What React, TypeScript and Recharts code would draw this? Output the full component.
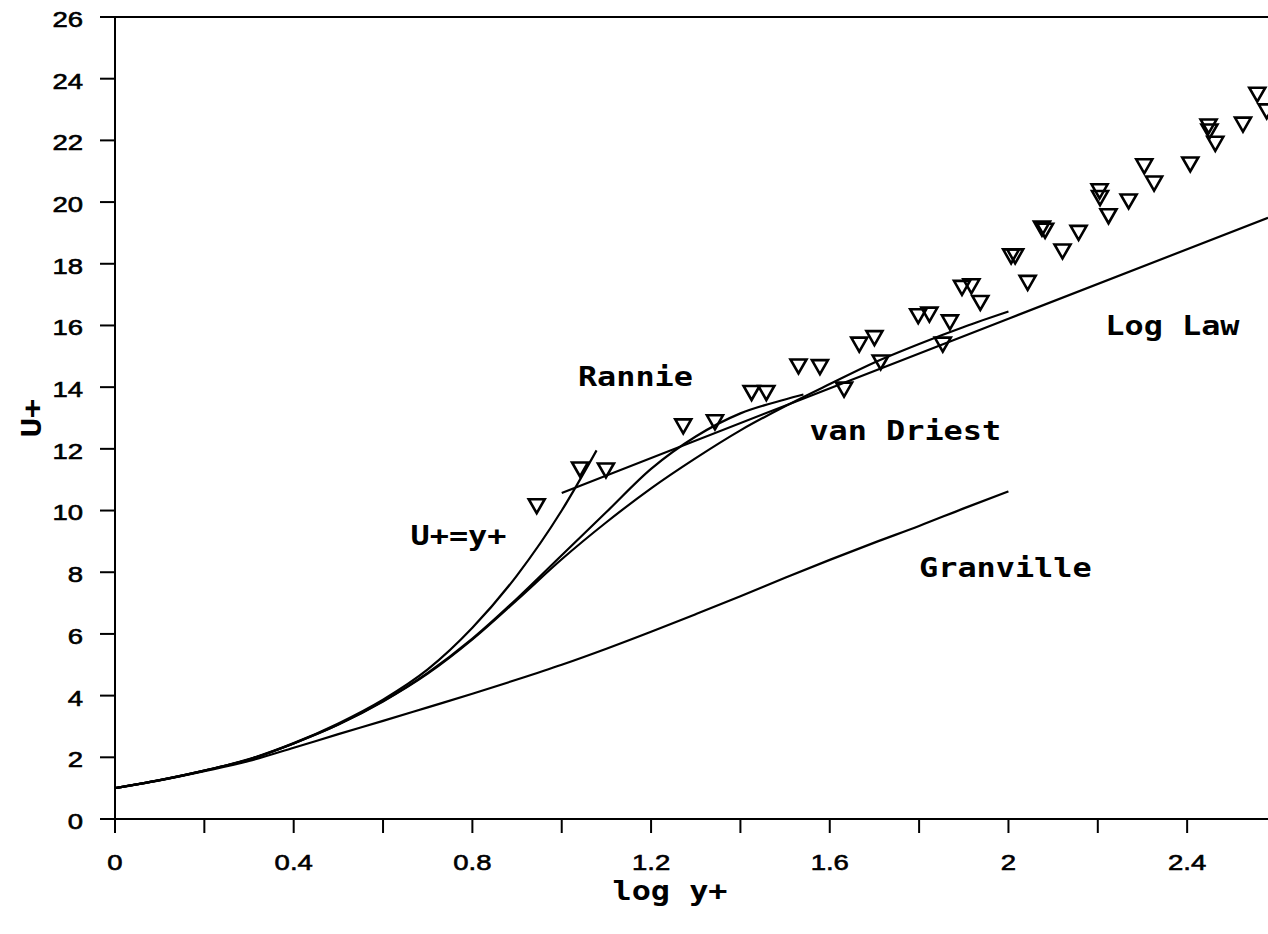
import React from 'react';
import {
  ComposedChart,
  Line,
  Scatter,
  XAxis,
  YAxis,
  ReferenceLine,
  ReferenceDot,
  Label,
} from 'recharts';

// Velocity profiles in wall units: U+ against log10(y+)

const viscousSublayer = [
  { x: 0, u: 1.0 }, { x: 0.1, u: 1.26 }, { x: 0.2, u: 1.57 }, { x: 0.3, u: 1.94 },
  { x: 0.4, u: 2.46 }, { x: 0.5, u: 3.1 }, { x: 0.6, u: 3.87 }, { x: 0.7, u: 4.85 },
  { x: 0.8, u: 6.2 }, { x: 0.9, u: 7.9 }, { x: 1.0, u: 10.0 }, { x: 1.078, u: 11.95 },
];

const rannie = [
  { x: 0, u: 1.0 }, { x: 0.1, u: 1.26 }, { x: 0.2, u: 1.57 }, { x: 0.3, u: 1.93 },
  { x: 0.4, u: 2.45 }, { x: 0.5, u: 3.06 }, { x: 0.6, u: 3.82 }, { x: 0.7, u: 4.74 },
  { x: 0.8, u: 5.85 }, { x: 0.9, u: 7.15 }, { x: 1.0, u: 8.55 }, { x: 1.1, u: 9.95 },
  { x: 1.2, u: 11.35 }, { x: 1.3, u: 12.4 }, { x: 1.4, u: 13.15 }, { x: 1.5, u: 13.6 },
  { x: 1.541, u: 13.76 },
];

const vanDriest = [
  { x: 0, u: 1.0 }, { x: 0.1, u: 1.26 }, { x: 0.2, u: 1.57 }, { x: 0.3, u: 1.93 },
  { x: 0.4, u: 2.45 }, { x: 0.5, u: 3.06 }, { x: 0.6, u: 3.81 }, { x: 0.7, u: 4.71 },
  { x: 0.8, u: 5.82 }, { x: 0.9, u: 7.1 }, { x: 1.0, u: 8.42 }, { x: 1.1, u: 9.62 },
  { x: 1.2, u: 10.72 }, { x: 1.3, u: 11.7 }, { x: 1.4, u: 12.6 }, { x: 1.5, u: 13.38 },
  { x: 1.6, u: 14.1 }, { x: 1.7, u: 14.8 }, { x: 1.8, u: 15.4 }, { x: 1.9, u: 15.95 },
  { x: 2.0, u: 16.45 },
];

const granville = [
  { x: 0, u: 1.0 }, { x: 0.1, u: 1.25 }, { x: 0.2, u: 1.55 }, { x: 0.3, u: 1.88 },
  { x: 0.4, u: 2.31 }, { x: 0.5, u: 2.75 }, { x: 0.6, u: 3.18 }, { x: 0.7, u: 3.62 },
  { x: 0.8, u: 4.06 }, { x: 0.9, u: 4.52 }, { x: 1.0, u: 5.0 }, { x: 1.1, u: 5.52 },
  { x: 1.2, u: 6.07 }, { x: 1.3, u: 6.64 }, { x: 1.4, u: 7.22 }, { x: 1.5, u: 7.82 },
  { x: 1.6, u: 8.4 }, { x: 1.7, u: 8.96 }, { x: 1.8, u: 9.5 }, { x: 1.9, u: 10.07 },
  { x: 2.0, u: 10.62 },
];

const logLaw = [
  { x: 1.0, u: 10.57 }, { x: 1.5, u: 13.4 }, { x: 2.0, u: 16.22 }, { x: 2.581, u: 19.49 },
];

const measured = [
  { x: 0.944, u: 10.14 }, { x: 1.041, u: 11.33 }, { x: 1.099, u: 11.3 }, { x: 1.272, u: 12.73 },
  { x: 1.343, u: 12.86 }, { x: 1.425, u: 13.81 }, { x: 1.458, u: 13.81 }, { x: 1.53, u: 14.67 },
  { x: 1.578, u: 14.65 }, { x: 1.632, u: 13.92 }, { x: 1.666, u: 15.38 }, { x: 1.7, u: 15.59 },
  { x: 1.714, u: 14.8 }, { x: 1.798, u: 16.3 }, { x: 1.823, u: 16.35 }, { x: 1.853, u: 15.38 },
  { x: 1.869, u: 16.1 }, { x: 1.896, u: 17.22 }, { x: 1.917, u: 17.27 }, { x: 1.937, u: 16.73 },
  { x: 2.006, u: 18.24 }, { x: 2.015, u: 18.24 }, { x: 2.043, u: 17.38 }, { x: 2.075, u: 19.14 },
  { x: 2.082, u: 19.07 }, { x: 2.121, u: 18.4 }, { x: 2.157, u: 19.0 }, { x: 2.204, u: 20.35 },
  { x: 2.205, u: 20.13 }, { x: 2.224, u: 19.54 }, { x: 2.269, u: 20.02 }, { x: 2.304, u: 21.16 },
  { x: 2.326, u: 20.6 }, { x: 2.407, u: 21.22 }, { x: 2.448, u: 22.45 }, { x: 2.45, u: 22.29 },
  { x: 2.463, u: 21.89 }, { x: 2.525, u: 22.51 }, { x: 2.557, u: 23.48 }, { x: 2.578, u: 22.94 },
];

const xTicks = [0, 0.2, 0.4, 0.6, 0.8, 1.0, 1.2, 1.4, 1.6, 1.8, 2.0, 2.2, 2.4];
const xTickLabels = ['0', '', '0.4', '', '0.8', '', '1.2', '', '1.6', '', '2', '', '2.4'];
const yTicks = [0, 2, 4, 6, 8, 10, 12, 14, 16, 18, 20, 22, 24, 26];

const tickFont: React.CSSProperties = {
  fontFamily: '"Liberation Sans", Arial, sans-serif',
  fontSize: 22,
  fill: '#000',
  stroke: '#000',
  strokeWidth: 0.6,
};

const titleFont: React.CSSProperties = {
  fontFamily: '"DejaVu Sans Mono", monospace',
  fontWeight: 700,
  fontSize: 27,
  fill: '#000',
};

const XTick = (props: any) => {
  const { x, y, index } = props;
  const label = xTickLabels[index] ?? '';
  if (!label) return null;
  return (
    <text transform={`translate(${x},${y + 37}) scale(1.25,1)`} textAnchor="middle" style={tickFont}>
      {label}
    </text>
  );
};

const YTick = (props: any) => {
  const { x, y, payload } = props;
  return (
    <text
      transform={`translate(${x - 17},${y + 2}) scale(1.25,1)`}
      textAnchor="end"
      dy="0.36em"
      style={tickFont}
    >
      {String(payload.value)}
    </text>
  );
};

const XTitle = (props: any) => {
  const { viewBox } = props;
  return (
    <text
      transform={`translate(${viewBox.x + 555},${viewBox.y + 81}) scale(1.18,1)`}
      textAnchor="middle"
      style={titleFont}
    >
      log y+
    </text>
  );
};

const YTitle = (props: any) => {
  const { viewBox } = props;
  return (
    <text
      transform={`translate(${viewBox.x + 31},${viewBox.y + viewBox.height / 2}) rotate(-90) scale(1.18,1)`}
      textAnchor="middle"
      dy="0.36em"
      style={titleFont}
    >
      U+
    </text>
  );
};

const annotation = (text: string) => (props: any) => (
  <text
    transform={`translate(${props.cx},${props.cy}) scale(1.18,1)`}
    textAnchor="middle"
    dy="0.36em"
    style={titleFont}
  >
    {text}
  </text>
);

const DownTriangle = (props: any) => {
  const { cx, cy } = props;
  if (cx == null || cy == null) return null;
  return (
    <path
      d={`M${cx - 8},${cy - 7}L${cx + 8},${cy - 7}L${cx},${cy + 7}Z`}
      fill="none"
      stroke="#000"
      strokeWidth={2.6}
    />
  );
};

const axisStroke = { stroke: '#000', strokeWidth: 2 };
const curveProps = {
  dataKey: 'u',
  stroke: '#000',
  strokeWidth: 2.2,
  dot: false,
  activeDot: false,
  isAnimationActive: false,
} as const;

export default function App() {
  return (
    <div style={{ position: 'absolute', left: 0, top: 0, width: 1268, height: 920, background: '#fff' }}>
      <ComposedChart width={1268} height={920} margin={{ top: 17, right: 0, bottom: 0, left: 0 }}>
        <XAxis
          type="number"
          dataKey="x"
          domain={[0, 2.581]}
          allowDataOverflow
          ticks={xTicks}
          interval={0}
          height={101}
          tickSize={14}
          tickMargin={0}
          axisLine={axisStroke}
          tickLine={axisStroke}
          tick={<XTick />}
        >
          <Label content={<XTitle />} />
        </XAxis>
        <YAxis
          type="number"
          dataKey="u"
          domain={[0, 26]}
          allowDataOverflow
          ticks={yTicks}
          interval={0}
          width={115}
          tickSize={15}
          tickMargin={0}
          axisLine={axisStroke}
          tickLine={axisStroke}
          tick={<YTick />}
        >
          <Label content={<YTitle />} />
        </YAxis>
        <ReferenceLine y={26} stroke="#000" strokeWidth={2} />

        <Line data={granville} type="monotone" {...curveProps} />
        <Line data={vanDriest} type="monotone" {...curveProps} />
        <Line data={rannie} type="monotone" {...curveProps} />
        <Line data={viscousSublayer} type="monotone" {...curveProps} />
        <Line data={logLaw} type="linear" {...curveProps} />
        <Scatter data={measured} dataKey="u" shape={<DownTriangle />} isAnimationActive={false} />

        <ReferenceDot x={1.165} y={14.34} r={0} ifOverflow="visible" shape={annotation('Rannie')} />
        <ReferenceDot x={0.769} y={9.2} r={0} ifOverflow="visible" shape={annotation('U+=y+')} />
        <ReferenceDot x={1.769} y={12.6} r={0} ifOverflow="visible" shape={annotation('van Driest')} />
        <ReferenceDot x={2.367} y={16.01} r={0} ifOverflow="visible" shape={annotation('Log Law')} />
        <ReferenceDot x={1.993} y={8.17} r={0} ifOverflow="visible" shape={annotation('Granville')} />
      </ComposedChart>
    </div>
  );
}
